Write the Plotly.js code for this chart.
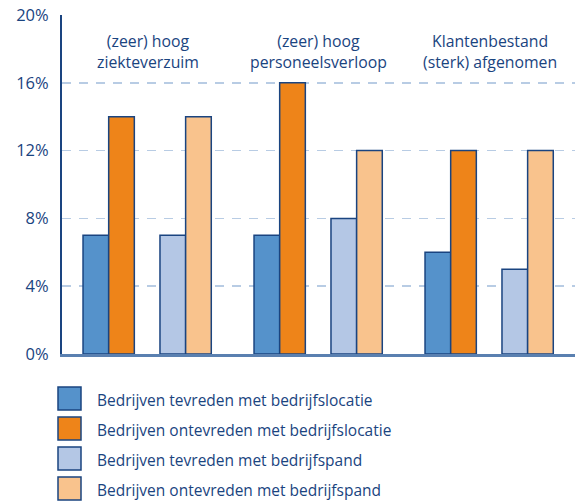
<!DOCTYPE html>
<html>
<head>
<meta charset="utf-8">
<script src="https://cdn.plot.ly/plotly-3.0.1.min.js"></script>
<style>
  html, body { margin: 0; padding: 0; background: #fff; }
  #chart { width: 583px; height: 501px; }
</style>
</head>
<body>
<div id="chart"></div>
<script>
// ---- data ----
const categories = [
  "(zeer) hoog<br>ziekteverzuim",
  "(zeer) hoog<br>personeelsverloop",
  "Klantenbestand<br>(sterk) afgenomen"
];
const seriesNames = [
  "Bedrijven tevreden met bedrijfslocatie",
  "Bedrijven ontevreden met bedrijfslocatie",
  "Bedrijven tevreden met bedrijfspand",
  "Bedrijven ontevreden met bedrijfspand"
];
const tevredenLocatie   = [7, 7, 6];
const ontevredenLocatie = [14, 16, 12];
const tevredenPand      = [7, 8, 5];
const ontevredenPand    = [14, 12, 12];
const tickValues = [0, 4, 8, 12, 16, 20];
const tickLabels = ["0%", "4%", "8%", "12%", "16%", "20%"];

// ---- styles ----
const seriesValues = [tevredenLocatie, ontevredenLocatie, tevredenPand, ontevredenPand];
const colors = ["#5592cb", "#ee8419", "#b4c7e5", "#f9c38d"];
const offsets = [-0.377, -0.227, 0.073, 0.223];
const barWidth = 0.15;
const navy = "#1a4480";
const FONT = "Open Sans, sans-serif";

const traces = seriesValues.map((vals, i) => ({
  type: "bar",
  name: seriesNames[i],
  x: categories,
  y: vals,
  width: barWidth,
  offset: offsets[i],
  marker: { color: colors[i], line: { color: navy, width: 1.5 } },
  showlegend: false,
  hoverinfo: "x+y"
}));

// pixel geometry helpers for paper coordinates
const M = { l: 62, r: 8, t: 15, b: 147 };
const W = 583, H = 501;
const pw = W - M.l - M.r, ph = H - M.t - M.b;
const px2x = px => (px - M.l) / pw;
const py2y = py => (H - M.b - py) / ph;

const shapes = [];
const annotations = [];

// group labels
categories.forEach(c => {
  annotations.push({
    x: c, xref: "x",
    y: py2y(52), yref: "paper",
    text: c, showarrow: false,
    xanchor: "center", yanchor: "middle",
    font: { family: FONT, size: 15.8, color: navy },
    align: "center"
  });
});

// custom legend
seriesNames.forEach((n, i) => {
  const top = 387 + i * 30;
  shapes.push({
    type: "rect", xref: "paper", yref: "paper",
    x0: px2x(58), x1: px2x(81),
    y0: py2y(top), y1: py2y(top + 23),
    fillcolor: colors[i],
    line: { color: navy, width: 1.5 }
  });
  annotations.push({
    xref: "paper", yref: "paper",
    x: px2x(95), y: py2y(top + 12.5),
    xanchor: "left", yanchor: "middle",
    text: n, showarrow: false,
    font: { family: FONT, size: 15.5, color: navy }
  });
});

const layout = {
  width: W, height: H,
  margin: M,
  paper_bgcolor: "#fff",
  plot_bgcolor: "#fff",
  showlegend: false,
  barmode: "overlay",
  font: { family: FONT, color: navy },
  xaxis: {
    type: "category",
    range: [-0.5, 2.5],
    showticklabels: false,
    showgrid: false,
    zeroline: false,
    showline: true,
    linecolor: "#5a80b0",
    linewidth: 2.5,
    ticks: "",
    fixedrange: true
  },
  yaxis: {
    range: [0, 20],
    tickvals: tickValues,
    ticktext: tickLabels,
    tickfont: { family: FONT, size: 16.5, color: navy },
    ticks: "outside",
    ticklen: 8,
    tickcolor: "rgba(0,0,0,0)",
    showgrid: true,
    gridcolor: "#b8cce4",
    gridwidth: 1.5,
    griddash: "9px,8px",
    zeroline: false,
    showline: true,
    linecolor: navy,
    linewidth: 2,
    fixedrange: true
  },
  shapes: shapes,
  annotations: annotations
};

Plotly.newPlot("chart", traces, layout, { displayModeBar: false, staticPlot: true });
</script>
</body>
</html>
